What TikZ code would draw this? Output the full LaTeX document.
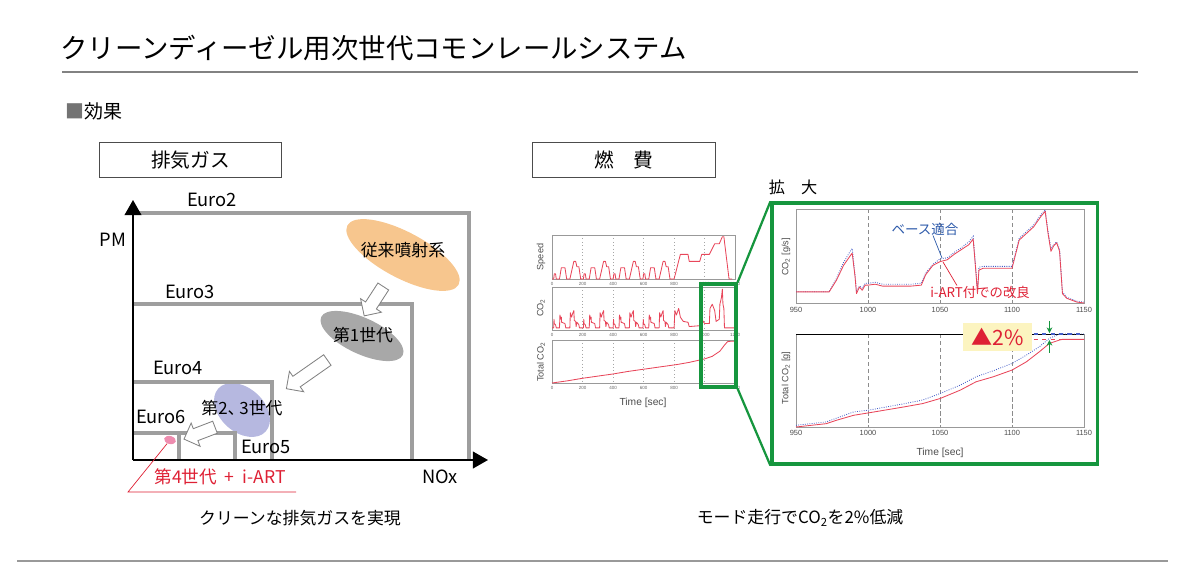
\documentclass[tikz,border=0pt]{standalone}
\usepackage{fontspec}
\setmainfont{Noto Sans CJK JP}
\newfontfamily\plotfont{Liberation Sans}
\usetikzlibrary{shapes.geometric,shapes.arrows,arrows.meta}
\definecolor{linegray}{RGB}{130,130,130}
\definecolor{eurogray}{RGB}{158,158,158}
\definecolor{convorange}{RGB}{247,198,142}
\definecolor{gengray}{RGB}{168,168,168}
\definecolor{genblue}{RGB}{182,184,224}
\definecolor{genpink}{RGB}{238,140,175}
\definecolor{iartred}{RGB}{222,32,52}
\definecolor{zoomgreen}{RGB}{22,150,62}
\definecolor{baseblue}{RGB}{45,90,170}
\definecolor{notebg}{RGB}{252,244,192}
\definecolor{curvered}{RGB}{232,70,90}
\definecolor{curveblue}{RGB}{70,95,200}

\begin{document}
\begin{tikzpicture}[x=0.025cm, y=-0.025cm]
\tikzstyle{headbox}=[draw=black!70,line width=0.7pt,minimum width=4.55cm,minimum height=0.875cm,font=\fontsize{14}{14}\selectfont]
\tikzstyle{euro}=[draw=eurogray,line width=2.6pt]
\tikzstyle{eurolabel}=[inner sep=0pt,font=\fontsize{13}{13}\selectfont]
\tikzstyle{blob}=[shape=ellipse,inner sep=0pt]
\tikzstyle{genlabel}=[inner sep=0pt,font=\fontsize{12}{12}\selectfont]
\tikzstyle{hollow}=[shape=single arrow,draw=linegray,fill=white,line width=0.6pt,inner sep=0.15cm,single arrow head extend=0.15cm]
\tikzstyle{plotframe}=[draw=black!40,line width=0.5pt]
\tikzstyle{gridline}=[draw=black!35,dotted,line width=0.4pt]
\tikzstyle{ticklabel}=[inner sep=0pt,text=black!60,font=\plotfont\fontsize{3.2}{3.2}\selectfont]
\tikzstyle{bigtick}=[inner sep=0pt,text=black!70,font=\plotfont\fontsize{5.3}{5.3}\selectfont]
\tikzstyle{axlabel}=[inner sep=0pt,text=black!70,font=\plotfont\fontsize{7.3}{7.3}\selectfont]
\tikzstyle{iart}=[draw=curvered,line width=0.6pt,line join=round]
\tikzstyle{base}=[draw=curveblue,densely dotted,line width=0.6pt]
\tikzstyle{zoombox}=[draw=zoomgreen,line width=2.2pt,inner sep=0pt]
\useasboundingbox (0,0) rectangle (1200,580);
% heading
\node[anchor=west,inner sep=0pt,font=\fontsize{19.5}{19.5}\selectfont] (title) at (60,48) {クリーンディーゼル用次世代コモンレールシステム};
\draw[linegray,line width=0.8pt] (62,72) -- (1138,72);
\node[anchor=west,inner sep=0pt,font=\fontsize{13.5}{13.5}\selectfont] (effect) at (65,111) {\textcolor{black!55}{■}効果};
% exhaust gas
\node[headbox] (gasbox) at (190.5,160) {排気ガス};
\node[blob,fill=convorange,minimum width=3.15cm,minimum height=1.15cm,rotate=-28] (conv) at (403,255) {};
\node[blob,fill=gengray,minimum width=2.25cm,minimum height=0.9cm,rotate=-25] (gen1) at (362,336) {};
\node[blob,fill=genblue,minimum width=1.6cm,minimum height=1.1cm,rotate=-42] (gen23) at (242,410) {};
\node[blob,fill=genpink,minimum width=0.3cm,minimum height=0.2cm,rotate=-15] (gen4) at (170,440) {};
\draw[euro] (133,213) -| (469,460);
\draw[euro] (133,304) -| (412,460);
\draw[euro] (133,382) -| (272,460);
\draw[euro] (133,433) -| (235,460);
\draw[euro] (179,433) -- (179,460);
\coordinate (O) at (133,460);
\coordinate (ytip) at (133,200);
\coordinate (xtip) at (488,460);
\draw[line width=1.3pt,-{Triangle[width=0.42cm,length=0.38cm]}] (O) -- (ytip);
\draw[line width=1.3pt,-{Triangle[width=0.42cm,length=0.38cm]}] (O) -- (xtip);
\node[eurolabel] (pm) at (113,240) {PM};
\node[eurolabel] (nox) at (440,477) {NOx};
\node[eurolabel] (euro2) at (212,200) {Euro2};
\node[eurolabel] (euro3) at (190,292) {Euro3};
\node[eurolabel] (euro4) at (178,368) {Euro4};
\node[eurolabel] (euro5) at (266,447) {Euro5};
\node[eurolabel] (euro6) at (161,417) {Euro6};
\node[genlabel] (convtext) at (403,250) {従来噴射系};
\node[genlabel] (gen1text) at (363,335) {第1世代};
\node[genlabel] (gen23text) at (242,408) {第2、\kern-0.3em3世代};
\node[hollow,minimum height=0.875cm,rotate=-123] (arr1) at (375.5,298.5) {};
\node[hollow,minimum height=1.25cm,rotate=-145] (arr2) at (309.5,372.5) {};
\node[hollow,minimum height=0.83cm,rotate=-159] (arr3) at (202.5,432) {};
\coordinate (leadcorner) at (128,492);
\coordinate (leadend) at (296,492);
\draw[iartred,line width=0.5pt] (gen4) -- (leadcorner) -- (leadend);
\node[genlabel,text=iartred,font=\fontsize{12.5}{12.5}\selectfont] (gen4text) at (220,477) {第4世代\hspace{0.45em}+\hspace{0.45em}i-ART};
\node[inner sep=0pt,font=\fontsize{12}{12}\selectfont] (gascap) at (300,518) {クリーンな排気ガスを実現};
% fuel consumption
\node[headbox] (fuelbox) at (624,160) {燃　費};
\node[inner sep=0pt,font=\fontsize{11.5}{11.5}\selectfont] (zoomtitle) at (793,187) {拡　大};
\foreach \top/\bot in {235/279,287/330,340/383} {
  \foreach \t in {1,...,5} \draw[gridline] ({552+\t*30.5},\top) -- ({552+\t*30.5},\bot);
  \draw[plotframe] (552,\top) rectangle (735,\bot);
  \foreach \t [count=\i from 0] in {0,200,...,1200} \node[ticklabel] at ({552+\i*30.5},\bot+4.5) {\t};
}
\node[axlabel,rotate=90,font=\plotfont\fontsize{6.5}{6.5}\selectfont] (speedlbl) at (541,257) {Speed};
\node[axlabel,rotate=90,font=\plotfont\fontsize{6.5}{6.5}\selectfont] (co2lbl) at (541,308) {CO\textsubscript{2}};
\node[axlabel,rotate=90,font=\plotfont\fontsize{6.5}{6.5}\selectfont] (totlbl) at (541,362) {Total CO\textsubscript{2}};
\node[axlabel] (timesmall) at (643,403) {Time [sec]};
\begin{scope}[shift={(552,279)},x=0.0038125cm,y=0.0088cm]
\foreach \c in {0,195,390,585}
  \draw[iart,shift={(\c,0)}] (0,0) -- (11,0) -- (15,15) -- (23,15) -- (28,0) -- (49,0) -- (61,32) -- (85,32) -- (96,0) -- (117,0) -- (143,50) -- (155,50) -- (163,35) -- (176,35) -- (188,0) -- (195,0);
\draw[iart] (780,0) -- (800,0) -- (841,70) -- (891,70) -- (899,50) -- (968,50) -- (981,70) -- (1031,70) -- (1066,100) -- (1096,100) -- (1116,120) -- (1126,120) -- (1160,0) -- (1180,0);
\end{scope}
\begin{scope}[shift={(552,330)},x=0.0038125cm,y=0.01075cm]
\foreach \c in {0,195,390,585}
  \draw[iart,shift={(\c,0)}] (0,5) -- (11,5) -- (13,25) -- (15,15) -- (23,12) -- (28,5) -- (49,5) -- (52,35) -- (58,25) -- (61,30) -- (63,18) -- (85,15) -- (90,5) -- (117,5) -- (120,40) -- (128,30) -- (135,38) -- (143,45) -- (146,22) -- (155,20) -- (158,8) -- (163,18) -- (170,15) -- (176,12) -- (180,5) -- (195,5);
\draw[iart] (780,5) -- (800,5) -- (805,45) -- (815,35) -- (830,50) -- (841,30) -- (860,20) -- (891,18) -- (899,8) -- (968,10) -- (973,35) -- (981,25) -- (1000,15) -- (1031,15) -- (1035,50) -- (1050,60) -- (1066,45) -- (1075,20) -- (1096,25) -- (1100,60) -- (1110,75) -- (1116,95) -- (1120,60) -- (1126,50) -- (1130,5) -- (1200,5);
\end{scope}
\begin{scope}[shift={(552,383)},x=0.0038125cm,y=0.01075cm]
\draw[iart] (0,0) -- (100,5) -- (200,11) -- (300,16) -- (400,21) -- (500,27) -- (600,32) -- (700,37) -- (800,42) -- (820,43) -- (900,48) -- (1000,56) -- (1050,62) -- (1100,74) -- (1130,88) -- (1150,96) -- (1170,97) -- (1200,97);
\end{scope}
\node[zoombox,minimum width=0.875cm,minimum height=2.575cm] (zsmall) at (718.5,335.5) {};
\node[zoombox,minimum width=8.125cm,minimum height=6.525cm] (zbig) at (934.5,333.5) {};
\draw[zoomgreen,line width=1.6pt] (zsmall.north east) -- (zbig.north west);
\draw[zoomgreen,line width=1.6pt] (zsmall.south east) -- (zbig.south west);
% enlarged plots
\foreach \x in {868,940,1012} {
  \draw[black!45,densely dashed,line width=0.4pt] (\x,209) -- (\x,303);
  \draw[black!45,densely dashed,line width=0.4pt] (\x,334) -- (\x,427);
}
\draw[plotframe] (796,209) rectangle (1084,303);
\draw[plotframe] (796,334) rectangle (1084,427);
\draw[black,line width=0.6pt] (796,334) -- (1084,334);
\foreach \t [count=\i from 0] in {950,1000,...,1150} {
  \node[bigtick] at ({796+\i*72},310) {\t};
  \node[bigtick] at ({796+\i*72},433) {\t};
}
\node[axlabel,rotate=90,font=\plotfont\fontsize{6.5}{6.5}\selectfont] (rate) at (786,257) {CO\textsubscript{2} [g/s]};
\node[axlabel,rotate=90,font=\plotfont\fontsize{6.5}{6.5}\selectfont] (total) at (786,378) {Total CO\textsubscript{2} [g]};
\node[axlabel] (timebig) at (940,453) {Time [sec]};
\begin{scope}[shift={(796,303)},x=0.036cm,y=0.0235cm]
\draw[base] (0,12) -- (23,12) -- (28,26) -- (33,43) -- (38,56) -- (39,58) -- (41,30) -- (42,12) -- (44,18) -- (46,16) -- (48,21) -- (50,21) -- (55,22) -- (60,20) -- (80,20) -- (87,21) -- (90,32) -- (95,41) -- (100,47) -- (105,48) -- (110,54) -- (115,59) -- (120,65) -- (123,71) -- (125,33) -- (126,12) -- (127,38) -- (130,39) -- (140,39) -- (150,39) -- (152,51) -- (155,69) -- (160,76) -- (165,83) -- (170,94) -- (173,99) -- (175,76) -- (177,58) -- (179,62) -- (181,65) -- (183,57) -- (185,12) -- (188,6) -- (195,2) -- (200,1);
\draw[iart] (0,11.8) -- (23,11.8) -- (28,24) -- (33,40) -- (38,51) -- (39,53) -- (41,28) -- (42,10) -- (44,17) -- (46,13.6) -- (48,19) -- (50,19) -- (55,20) -- (60,18) -- (80,18) -- (87,19) -- (90,30) -- (95,40) -- (100,44) -- (105,46) -- (110,52) -- (115,57) -- (120,62) -- (123,68) -- (125,31) -- (126,10) -- (127,35) -- (130,37) -- (140,37) -- (150,37) -- (152,49) -- (155,67) -- (160,74) -- (165,81) -- (170,92) -- (173,97.5) -- (175,74) -- (177,55) -- (179,61) -- (181,64) -- (183,55) -- (185,10) -- (188,5) -- (195,1) -- (200,0);
\end{scope}
\begin{scope}[shift={(796,427)},x=0.036cm,y=0.02325cm]
\draw[base] (0,1.8) -- (21,5.5) -- (28,9.5) -- (40,16.2) -- (50,18) -- (75,25) -- (88,29) -- (100,36) -- (114,45) -- (125,54) -- (137,60.5) -- (150,68.3) -- (160,77.3) -- (169,86.3) -- (176,95.3) -- (183,100) -- (200,100);
\draw[iart] (0,0) -- (21,3.6) -- (28,7.2) -- (40,12.6) -- (50,15.1) -- (75,21.6) -- (88,25.2) -- (100,30.6) -- (114,39.6) -- (125,48.6) -- (137,54) -- (150,61.2) -- (160,70.1) -- (169,80.9) -- (176,89.9) -- (183,93.5) -- (185,94.2) -- (200,94.2);
\draw[curveblue,dashed,line width=0.9pt] (165,100) -- (200,100);
\draw[curvered,dashed,line width=0.9pt] (165,94.2) -- (200,94.2);
\draw[zoomgreen,line width=0.8pt,-{Stealth[length=4pt,width=4pt]}] (176,114) -- (176,101);
\draw[zoomgreen,line width=0.8pt,-{Stealth[length=4pt,width=4pt]}] (176,80) -- (176,93.5);
\end{scope}
\node[fill=notebg,text=iartred,minimum width=1.725cm,minimum height=0.7cm,inner sep=0pt,font=\fontsize{15}{15}\selectfont] (gain) at (997.5,337) {▲2\%};
\node[inner sep=0pt,text=baseblue,font=\fontsize{9.6}{9.6}\selectfont] (baselbl) at (925,229) {ベース適合};
\coordinate (basept) at (942,258);
\draw[baseblue,line width=0.5pt] ([xshift=0.2cm]baselbl.south) -- (basept);
\node[inner sep=0pt,text=iartred,font=\fontsize{9.5}{9.5}\selectfont] (iartlbl) at (980,292) {i-ART付での改良};
\coordinate (iartpt) at (943,262);
\draw[iartred,line width=0.5pt] ([xshift=0.675cm]iartlbl.north west) -- (iartpt);
\node[inner sep=0pt,font=\fontsize{12}{12}\selectfont] (fuelcap) at (800,518) {モード走行でCO\textsubscript{2}を2\%低減};
\draw[black!40,line width=0.8pt] (17,561) -- (1168,561);
\end{tikzpicture}
\end{document}
